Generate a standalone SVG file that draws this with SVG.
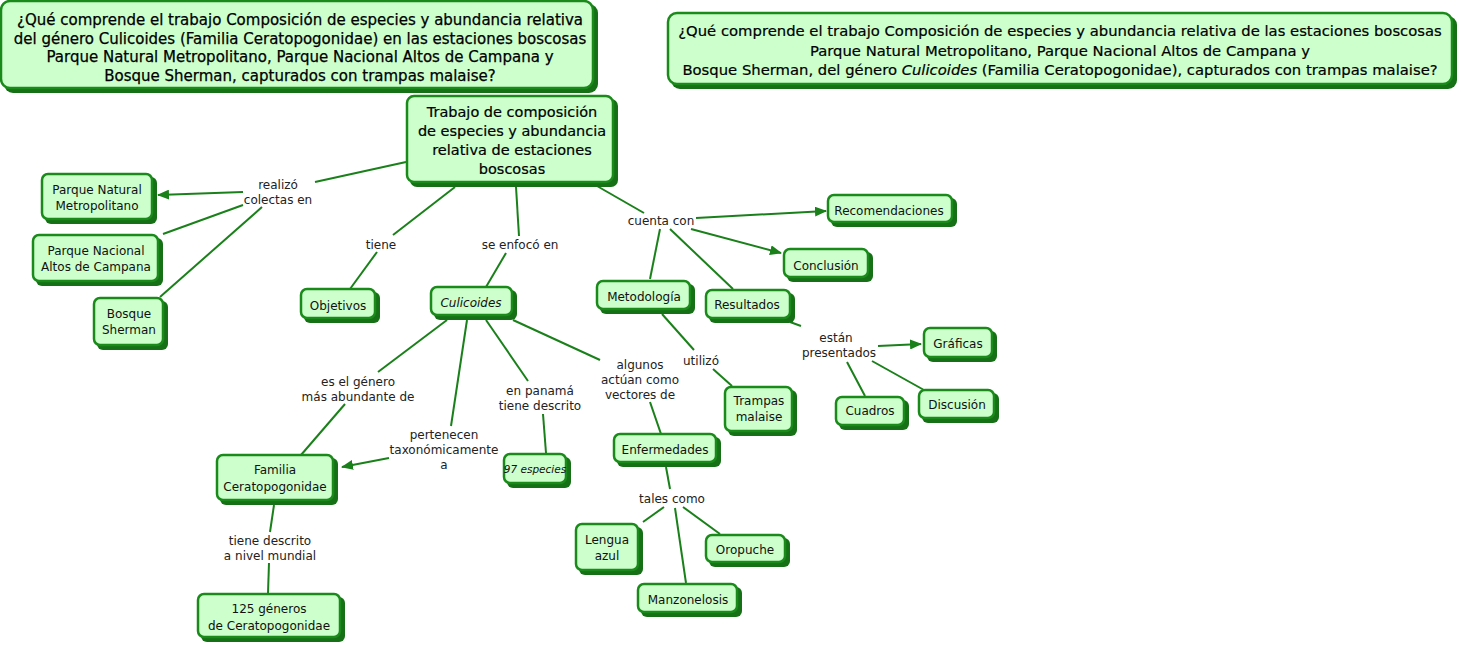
<svg xmlns="http://www.w3.org/2000/svg" width="1461" height="648" viewBox="0 0 1461 648">
<defs>
<marker id="arr" viewBox="0 0 12 10" refX="11" refY="5" markerWidth="12" markerHeight="10" markerUnits="userSpaceOnUse" orient="auto">
<path d="M0,0 L12,5 L0,10 Z" fill="#1a801a"/>
</marker>
</defs>
<style>
.sh{fill:#167016}
.bx{fill:#ccffcc;stroke:#1a8a1a;stroke-width:2.5}
.t{font-family:"DejaVu Sans",sans-serif;font-size:12px;fill:#111;text-anchor:middle}
.tt{font-family:"DejaVu Sans",sans-serif;font-size:15px;fill:#000;text-anchor:middle;stroke:#000;stroke-width:0.25}
.t2{font-family:"DejaVu Sans",sans-serif;font-size:14.8px;fill:#000;text-anchor:middle;stroke:#000;stroke-width:0.2}
.tm{font-family:"DejaVu Sans",sans-serif;font-size:14.5px;fill:#000;text-anchor:middle;stroke:#000;stroke-width:0.2}
.lb{font-family:"DejaVu Sans",sans-serif;font-size:12px;fill:#222;text-anchor:middle}
.c{stroke:#1a801a;stroke-width:2;fill:none}
.a{marker-end:url(#arr)}
.i{font-style:italic}
</style>
<rect width="1461" height="648" fill="#fff"/>

<g id="connectors">
<line class="c" x1="406" y1="162" x2="315" y2="182"/>
<line class="c a" x1="243" y1="192" x2="158" y2="195"/>
<line class="c" x1="243" y1="205" x2="163" y2="234"/>
<line class="c" x1="262" y1="207" x2="160" y2="297"/>
<line class="c" x1="455" y1="187" x2="393" y2="235"/>
<line class="c" x1="377" y1="252" x2="350" y2="289"/>
<line class="c" x1="516" y1="187" x2="519" y2="236"/>
<line class="c" x1="506" y1="253" x2="486" y2="287"/>
<line class="c" x1="597" y1="186" x2="644" y2="213"/>
<line class="c a" x1="696" y1="218" x2="826" y2="211"/>
<line class="c a" x1="691" y1="229" x2="781" y2="253"/>
<line class="c" x1="660" y1="229" x2="650" y2="279"/>
<line class="c" x1="670" y1="229" x2="733" y2="289"/>
<line class="c" x1="790" y1="322" x2="801" y2="326"/>
<line class="c a" x1="878" y1="346" x2="921" y2="344"/>
<line class="c" x1="847" y1="362" x2="865" y2="396"/>
<line class="c" x1="872" y1="361" x2="924" y2="390"/>
<line class="c" x1="662" y1="314" x2="694" y2="350"/>
<line class="c" x1="713" y1="369" x2="732" y2="386"/>
<line class="c" x1="447" y1="320" x2="378" y2="372"/>
<line class="c" x1="345" y1="404" x2="301" y2="455"/>
<line class="c" x1="467" y1="320" x2="451" y2="426"/>
<line class="c a" x1="389" y1="458" x2="342" y2="467"/>
<line class="c" x1="486" y1="320" x2="528" y2="381"/>
<line class="c" x1="543" y1="414" x2="546" y2="453"/>
<line class="c" x1="513" y1="320" x2="600" y2="360"/>
<line class="c" x1="650" y1="402" x2="661" y2="434"/>
<line class="c" x1="666" y1="467" x2="670" y2="489"/>
<line class="c" x1="664" y1="507" x2="643" y2="522"/>
<line class="c" x1="675" y1="508" x2="686" y2="583"/>
<line class="c" x1="683" y1="507" x2="720" y2="534"/>
<line class="c" x1="274" y1="505" x2="270" y2="532"/>
<line class="c" x1="269" y1="563" x2="268" y2="593"/>
<g class="lb">
<text x="278" y="189">realizó</text>
<text x="278" y="204">colectas en</text>
<text x="381" y="249">tiene</text>
<text x="520" y="249">se enfocó en</text>
<text x="661" y="225">cuenta con</text>
<text x="358" y="386">es el género</text>
<text x="358" y="401">más abundante de</text>
<text x="444" y="439">pertenecen</text>
<text x="444" y="454">taxonómicamente</text>
<text x="444" y="469">a</text>
<text x="540" y="395">en panamá</text>
<text x="540" y="410">tiene descrito</text>
<text x="640" y="369">algunos</text>
<text x="640" y="384">actúan como</text>
<text x="640" y="399">vectores de</text>
<text x="701" y="365">utilizó</text>
<text x="836" y="342">están</text>
<text x="839" y="357">presentados</text>
<text x="672" y="503">tales como</text>
<text x="270" y="545">tiene descrito</text>
<text x="270" y="560">a nivel mundial</text>
</g>
</g>

<g id="title1">
<rect class="sh" x="4" y="4" width="594" height="89" rx="9"/>
<rect class="bx" x="1" y="1" width="592" height="87" rx="9"/>
<text class="tt" x="300" y="25">¿Qué comprende el trabajo Composición de especies y abundancia relativa</text>
<text class="tt" x="300" y="44">del género Culicoides (Familia Ceratopogonidae) en las estaciones boscosas</text>
<text class="tt" x="300" y="62">Parque Natural Metropolitano, Parque Nacional Altos de Campana y</text>
<text class="tt" x="300" y="81">Bosque Sherman, capturados con trampas malaise?</text>
</g>

<g id="title2">
<rect class="sh" x="671" y="16" width="786" height="73" rx="9"/>
<rect class="bx" x="668" y="13" width="784" height="71" rx="9"/>
<text class="t2" x="1060" y="36">¿Qué comprende el trabajo Composición de especies y abundancia relativa de las estaciones boscosas</text>
<text class="t2" x="1060" y="56">Parque Natural Metropolitano, Parque Nacional Altos de Campana y</text>
<text class="t2" x="1060" y="75">Bosque Sherman, del género <tspan class="i">Culicoides</tspan> (Familia Ceratopogonidae), capturados con trampas malaise?</text>
</g>

<g id="main">
<rect class="sh" x="410" y="99" width="208" height="88" rx="7"/>
<rect class="bx" x="407" y="96" width="206" height="86" rx="7"/>
<text class="tm" x="512" y="117">Trabajo de composición</text>
<text class="tm" x="512" y="136">de especies y abundancia</text>
<text class="tm" x="512" y="155">relativa de estaciones</text>
<text class="tm" x="512" y="174">boscosas</text>
</g>

<g id="pnm">
<rect class="sh" x="45" y="177" width="112" height="47" rx="6"/>
<rect class="bx" x="42" y="174" width="110" height="45" rx="6"/>
<text class="t" x="97" y="194">Parque Natural</text>
<text class="t" x="97" y="210">Metropolitano</text>
</g>

<g id="pnac">
<rect class="sh" x="36" y="238" width="127" height="48" rx="6"/>
<rect class="bx" x="33" y="235" width="125" height="46" rx="6"/>
<text class="t" x="96" y="255">Parque Nacional</text>
<text class="t" x="96" y="271">Altos de Campana</text>
</g>

<g id="bosque">
<rect class="sh" x="97" y="301" width="71" height="49" rx="6"/>
<rect class="bx" x="94" y="298" width="69" height="47" rx="6"/>
<text class="t" x="129" y="318">Bosque</text>
<text class="t" x="129" y="334">Sherman</text>
</g>

<g id="objetivos">
<rect class="sh" x="304" y="292" width="76" height="31" rx="6"/>
<rect class="bx" x="301" y="289" width="74" height="29" rx="6"/>
<text class="t" x="338" y="310">Objetivos</text>
</g>

<g id="culicoides">
<rect class="sh" x="434" y="290" width="83" height="30" rx="6"/>
<rect class="bx" x="431" y="287" width="81" height="28" rx="6"/>
<text class="t i" x="471" y="307">Culicoides</text>
</g>

<g id="metodologia">
<rect class="sh" x="600" y="284" width="95" height="30" rx="6"/>
<rect class="bx" x="597" y="281" width="93" height="28" rx="6"/>
<text class="t" x="644" y="301">Metodología</text>
</g>

<g id="resultados">
<rect class="sh" x="709" y="293" width="86" height="30" rx="6"/>
<rect class="bx" x="706" y="290" width="84" height="28" rx="6"/>
<text class="t" x="747" y="309">Resultados</text>
</g>

<g id="recomendaciones">
<rect class="sh" x="831" y="198" width="126" height="29" rx="6"/>
<rect class="bx" x="828" y="195" width="124" height="27" rx="6"/>
<text class="t" x="889" y="215">Recomendaciones</text>
</g>

<g id="conclusion">
<rect class="sh" x="787" y="252" width="86" height="30" rx="6"/>
<rect class="bx" x="784" y="249" width="84" height="28" rx="6"/>
<text class="t" x="826" y="270">Conclusión</text>
</g>

<g id="graficas">
<rect class="sh" x="927" y="331" width="70" height="31" rx="6"/>
<rect class="bx" x="924" y="328" width="68" height="29" rx="6"/>
<text class="t" x="958" y="348">Gráficas</text>
</g>

<g id="cuadros">
<rect class="sh" x="839" y="400" width="70" height="30" rx="6"/>
<rect class="bx" x="836" y="397" width="68" height="28" rx="6"/>
<text class="t" x="870" y="415">Cuadros</text>
</g>

<g id="discusion">
<rect class="sh" x="922" y="393" width="77" height="30" rx="6"/>
<rect class="bx" x="919" y="390" width="75" height="28" rx="6"/>
<text class="t" x="957" y="409">Discusión</text>
</g>

<g id="trampas">
<rect class="sh" x="728" y="390" width="69" height="46" rx="6"/>
<rect class="bx" x="725" y="387" width="67" height="44" rx="6"/>
<text class="t" x="759" y="405">Trampas</text>
<text class="t" x="759" y="421">malaise</text>
</g>

<g id="familia">
<rect class="sh" x="220" y="458" width="118" height="47" rx="6"/>
<rect class="bx" x="217" y="455" width="116" height="45" rx="6"/>
<text class="t" x="275" y="474">Familia</text>
<text class="t" x="275" y="491">Ceratopogonidae</text>
</g>

<g id="especies97">
<rect class="sh" x="507" y="457" width="64" height="31" rx="6"/>
<rect class="bx" x="504" y="454" width="62" height="29" rx="6"/>
<text class="t i" x="535" y="473" style="font-size:10.5px">97 especies</text>
</g>

<g id="enfermedades">
<rect class="sh" x="617" y="437" width="104" height="30" rx="6"/>
<rect class="bx" x="614" y="434" width="102" height="28" rx="6"/>
<text class="t" x="665" y="454">Enfermedades</text>
</g>

<g id="lengua">
<rect class="sh" x="579" y="527" width="64" height="48" rx="6"/>
<rect class="bx" x="576" y="524" width="62" height="46" rx="6"/>
<text class="t" x="607" y="544">Lengua</text>
<text class="t" x="607" y="560">azul</text>
</g>

<g id="oropuche">
<rect class="sh" x="709" y="538" width="81" height="29" rx="6"/>
<rect class="bx" x="706" y="535" width="79" height="27" rx="6"/>
<text class="t" x="745" y="554">Oropuche</text>
</g>

<g id="manzonelosis">
<rect class="sh" x="641" y="587" width="101" height="30" rx="6"/>
<rect class="bx" x="638" y="584" width="99" height="28" rx="6"/>
<text class="t" x="688" y="604">Manzonelosis</text>
</g>

<g id="generos125">
<rect class="sh" x="201" y="597" width="144" height="45" rx="6"/>
<rect class="bx" x="198" y="594" width="142" height="43" rx="6"/>
<text class="t" x="269" y="613">125 géneros</text>
<text class="t" x="269" y="630">de Ceratopogonidae</text>
</g>
</svg>
